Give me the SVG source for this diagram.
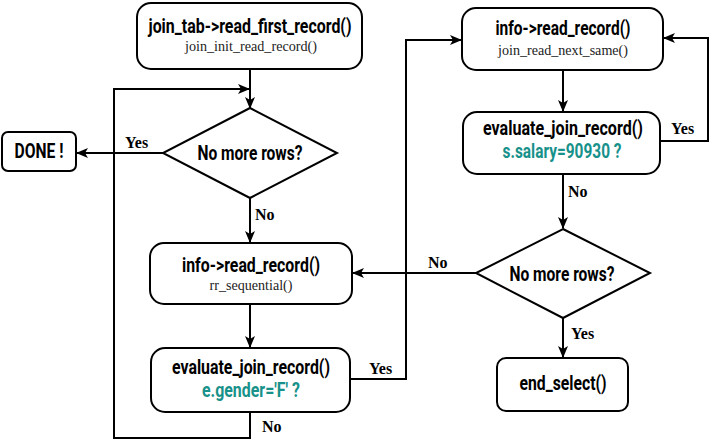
<svg xmlns="http://www.w3.org/2000/svg" width="710" height="441" viewBox="0 0 710 441">
<defs>
<marker id="ah" viewBox="0 0 12 10" refX="11" refY="5" markerWidth="12" markerHeight="10" markerUnits="userSpaceOnUse" orient="auto">
<path d="M0,0 L12,5 L0,10 L3,5 Z" fill="#000"/>
</marker>
</defs>
<style>
.box{fill:#fff;stroke:#000;stroke-width:2}
.t{font-family:Roboto,"DejaVu Sans",sans-serif;font-weight:bold;font-size:20px;text-anchor:middle;fill:#000}
.s{font-family:"Liberation Serif",serif;font-size:14px;text-anchor:middle;fill:#222}
.g{fill:#17918a}
.l{font-family:"Liberation Serif",serif;font-weight:bold;font-size:16px;fill:#000}
.c{fill:none;stroke:#000;stroke-width:2}
.a{marker-end:url(#ah)}
</style>
<g id="connectors">
<path class="c a" d="M250,69 V108"/>
<path class="c a" d="M250,412 V438 H114 V89 H249"/>
<path class="c a" d="M163,153 H77"/>
<path class="c a" d="M250,198 V242"/>
<path class="c a" d="M250,304 V347"/>
<path class="c a" d="M351,379 H406 V40 H461"/>
<path class="c a" d="M563,70 V111"/>
<path class="c a" d="M660,141 H708 V38 H664"/>
<path class="c a" d="M563,174 V228"/>
<path class="c a" d="M476,273 H353"/>
<path class="c a" d="M563,318 V357"/>
<text class="l" x="125" y="148">Yes</text>
<text class="l" x="255" y="220">No</text>
<text class="l" x="369" y="374">Yes</text>
<text class="l" x="262" y="432">No</text>
<text class="l" x="671" y="134">Yes</text>
<text class="l" x="568" y="197">No</text>
<text class="l" x="428" y="268">No</text>
<text class="l" x="571" y="339">Yes</text>
</g>
<g id="n1">
<rect class="box" x="137" y="3" width="225" height="66" rx="14"/>
<text class="t" x="250" y="33" textLength="203" lengthAdjust="spacingAndGlyphs">join_tab-&gt;read_first_record()</text>
<text class="s" x="251" y="51" textLength="132" lengthAdjust="spacingAndGlyphs">join_init_read_record()</text>
</g>
<g id="d1">
<polygon class="box" points="250,108 337,153 250,198 163,153"/>
<text class="t" x="250" y="160" textLength="105" lengthAdjust="spacingAndGlyphs">No more rows?</text>
</g>
<g id="done">
<rect class="box" x="2" y="132" width="74" height="39" rx="6"/>
<text class="t" x="39" y="158" textLength="49" lengthAdjust="spacingAndGlyphs">DONE !</text>
</g>
<g id="n2">
<rect class="box" x="150" y="243" width="202" height="61" rx="14"/>
<text class="t" x="251" y="272" textLength="138" lengthAdjust="spacingAndGlyphs">info-&gt;read_record()</text>
<text class="s" x="251" y="290" textLength="83" lengthAdjust="spacingAndGlyphs">rr_sequential()</text>
</g>
<g id="n3">
<rect class="box" x="151" y="348" width="199" height="64" rx="14"/>
<text class="t" x="251" y="374" textLength="158" lengthAdjust="spacingAndGlyphs">evaluate_join_record()</text>
<text class="t g" x="251" y="397" textLength="98" lengthAdjust="spacingAndGlyphs">e.gender='F' ?</text>
</g>
<g id="n4">
<rect class="box" x="462" y="8" width="201" height="62" rx="14"/>
<text class="t" x="563" y="35" textLength="135" lengthAdjust="spacingAndGlyphs">info-&gt;read_record()</text>
<text class="s" x="563" y="55" textLength="130" lengthAdjust="spacingAndGlyphs">join_read_next_same()</text>
</g>
<g id="n5">
<rect class="box" x="463" y="112" width="197" height="62" rx="14"/>
<text class="t" x="563" y="135" textLength="160" lengthAdjust="spacingAndGlyphs">evaluate_join_record()</text>
<text class="t g" x="562" y="158" textLength="119" lengthAdjust="spacingAndGlyphs">s.salary=90930 ?</text>
</g>
<g id="d2">
<polygon class="box" points="563,229 650,273 563,318 476,273"/>
<text class="t" x="562" y="281" textLength="105" lengthAdjust="spacingAndGlyphs">No more rows?</text>
</g>
<g id="n6">
<rect class="box" x="497" y="358" width="131" height="53" rx="9"/>
<text class="t" x="563" y="390" textLength="87" lengthAdjust="spacingAndGlyphs">end_select()</text>
</g>
</svg>
